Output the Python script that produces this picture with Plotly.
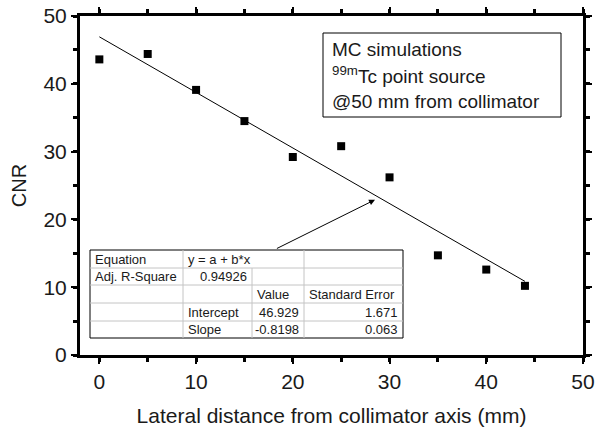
import plotly.graph_objects as go

# Data
x_mm = [0, 5, 10, 15, 20, 25, 30, 35, 40, 44]
cnr = [43.6, 44.4, 39.1, 34.5, 29.2, 30.8, 26.2, 14.7, 12.6, 10.2]
intercept = 46.929
slope = -0.8198
fit_x = [0, 44]
fit_y = [intercept + slope * v for v in fit_x]
x_ticks = [0, 10, 20, 30, 40, 50]
y_ticks = [0, 10, 20, 30, 40, 50]
table_rows = [
    ["Equation", "y = a + b*x", "", ""],
    ["Adj. R-Square", "0.94926", "", ""],
    ["", "", "Value", "Standard Error"],
    ["", "Intercept", "46.929", "1.671"],
    ["", "Slope", "-0.8198", "0.063"],
]
box_lines = ["MC simulations", "<sup>99m</sup>Tc point source", "@50 mm from collimator"]

FONT = "Liberation Sans, Arial, sans-serif"
TXT = "#1a1a1a"
L, R, T, B = 80, 583, 16, 355
W, H = R - L, B - T

def xp(px):
    return (px - L) / W

def yp(py):
    return (B - py) / H

fig = go.Figure()
fig.add_trace(go.Scatter(x=fit_x, y=fit_y, mode="lines",
                         line=dict(color="black", width=1), showlegend=False))
fig.add_trace(go.Scatter(x=x_mm, y=cnr, mode="markers",
                         marker=dict(symbol="square", size=8, color="black", line=dict(width=0)),
                         showlegend=False))

shapes = []
annotations = []

# Text box
shapes.append(dict(type="rect", xref="paper", yref="paper",
                   x0=xp(323), x1=xp(561), y0=yp(117), y1=yp(33),
                   line=dict(color="black", width=1), fillcolor="white", layer="above"))
for txt, py in zip(box_lines, [50, 75, 101]):
    annotations.append(dict(xref="paper", yref="paper", x=xp(330), y=yp(py),
                            text=txt, showarrow=False, xanchor="left", yanchor="middle",
                            font=dict(family=FONT, size=19, color=TXT)))

# Table
cols = [90, 183, 252, 304, 403]
rows = [250, 268, 285, 303, 321, 338]
shapes.append(dict(type="rect", xref="paper", yref="paper",
                   x0=xp(cols[0]), x1=xp(cols[-1]), y0=yp(rows[-1]), y1=yp(rows[0]),
                   line=dict(color="black", width=1), fillcolor="white", layer="above"))
for r in rows[1:-1]:
    shapes.append(dict(type="line", xref="paper", yref="paper",
                       x0=xp(cols[0]), x1=xp(cols[-1]), y0=yp(r), y1=yp(r),
                       line=dict(color="#c4c4c4", width=1), layer="above"))
for ci, c in enumerate(cols[1:-1], start=1):
    start_row = 1 if ci == 2 else 0
    shapes.append(dict(type="line", xref="paper", yref="paper",
                       x0=xp(c), x1=xp(c), y0=yp(rows[start_row]), y1=yp(rows[-1]),
                       line=dict(color="#c4c4c4", width=1), layer="above"))
right_cells = {(1, 1), (3, 2), (4, 2), (3, 3), (4, 3)}
for ri, row in enumerate(table_rows):
    cy = (rows[ri] + rows[ri + 1]) / 2
    for ci, txt in enumerate(row):
        if not txt:
            continue
        if (ri, ci) in right_cells:
            xa, xx = "right", xp(cols[ci + 1] - 3)
        else:
            xa, xx = "left", xp(cols[ci] + 3)
        annotations.append(dict(xref="paper", yref="paper", x=xx, y=yp(cy),
                                text=txt, showarrow=False, xanchor=xa, yanchor="middle",
                                font=dict(family=FONT, size=13, color=TXT)))

# Arrow from table to fit line
annotations.append(dict(x=28.5, y=22.9, ax=18.2, ay=15.6, xref="x", yref="y",
                        axref="x", ayref="y", text="", showarrow=True,
                        arrowhead=2, arrowsize=1.2, arrowwidth=1, arrowcolor="black"))

axis_common = dict(showline=True, linecolor="black", linewidth=3, mirror="ticks",
                   ticks="outside", ticklen=6, tickwidth=2, tickcolor="black",
                   showgrid=False, zeroline=False, automargin=False,
                   tickfont=dict(family=FONT, size=21, color=TXT))
minor = dict(ticks="outside", ticklen=4, tickwidth=3, tickcolor="black", dtick=5, tick0=0)

fig.update_layout(
    template="none",
    width=602, height=427,
    margin=dict(l=L, r=602 - R, t=T, b=427 - B, autoexpand=False),
    plot_bgcolor="white", paper_bgcolor="white",
    xaxis=dict(range=[-2, 50], tickvals=x_ticks, minor=minor,
               title=dict(text="Lateral distance from collimator axis (mm)",
                          font=dict(family=FONT, size=21, color=TXT), standoff=18),
               **axis_common),
    yaxis=dict(range=[0, 50], tickvals=y_ticks, minor=minor,
               title=dict(text="CNR", font=dict(family=FONT, size=20, color=TXT), standoff=12),
               **axis_common),
    shapes=shapes, annotations=annotations,
)

fig.write_html("out.html", config={"displayModeBar": False},
               post_script="document.body.style.margin='0';document.body.style.overflow='hidden';")
